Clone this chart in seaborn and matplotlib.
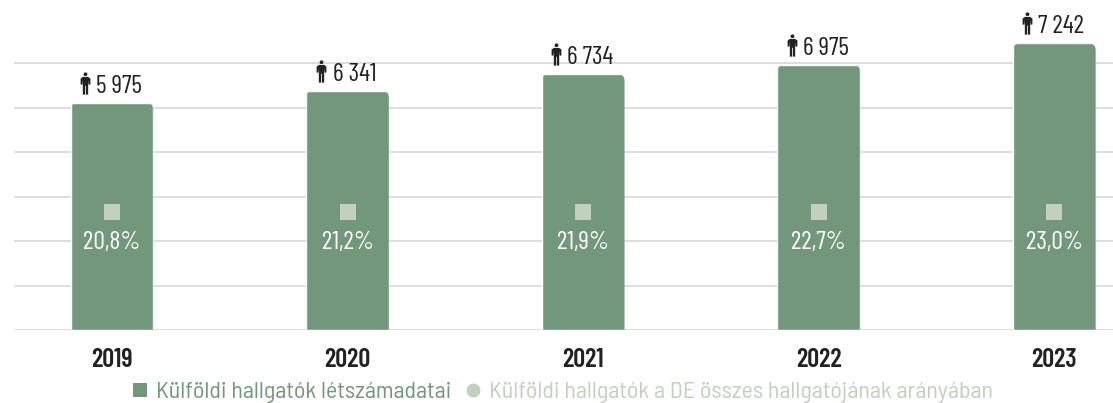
#!/usr/bin/env python3
"""
Foreign students at the university, headcount and share per year.
"""

import numpy as np
import pandas as pd
import seaborn as sns
import matplotlib.pyplot as plt

from matplotlib import font_manager
from matplotlib.lines import Line2D
from matplotlib.patches import FancyBboxPatch
from matplotlib.path import Path
from matplotlib.transforms import IdentityTransform, offset_copy

years = ["2019", "2020", "2021", "2022", "2023"]
# bar heights as drawn in the picture, the 2023 bar is taller than its label says
bar_heights = [5975, 6290, 6734, 6975, 7540]
headcount_labels = ["5 975", "6 341", "6 734", "6 975", "7 242"]
share_levels = [3105, 3105, 3105, 3105, 3105]
share_labels = ["20,8%", "21,2%", "21,9%", "22,7%", "23,0%"]
grid_levels = [0, 1171, 2342, 3513, 4684, 5855, 7026]
legend_labels = [
    "Külföldi hallgatók létszámadatai",
    "Külföldi hallgatók a DE összes hallgatójának arányában",
]

GREEN = "#73977a"
PALE = "#c3cfbf"
DARK = "#222222"
GRID = "#dedede"


def person_marker():
    """Small standing figure, head and body, used next to the headcounts."""
    head = Path.circle((0, 8.3), 1.7)
    body = Path(
        [(-2.2, 6), (2.2, 6), (4.4, 4.5), (4.4, -1), (2.8, -1), (2.4, 3), (2.4, -10),
         (0.35, -10), (0.35, -2), (-0.35, -2), (-0.35, -10), (-2.4, -10), (-2.4, 3),
         (-2.8, -1), (-4.4, -1), (-4.4, 4.5), (-2.2, 6)],
        closed=True,
    )
    return Path.make_compound_path(head, body)


def round_bars(fig, ax, radius=7):
    """Clip every bar to a box with rounded corners, only the top ones show."""
    fig.canvas.draw()
    for bar in ax.patches:
        box = bar.get_window_extent()
        clip = FancyBboxPatch(
            (box.x0 + radius, box.y0 - 30),
            box.width - 2 * radius,
            box.height + 30 - radius,
            boxstyle=f"round,pad={radius},rounding_size={radius}",
            transform=IdentityTransform(),
        )
        bar.set_clip_path(clip)


sns.set_theme(style="white")
installed = {f.name for f in font_manager.fontManager.ttflist}
narrow = "Barlow Condensed" if "Barlow Condensed" in installed else "Roboto"
semi = "Barlow Semi Condensed" if "Barlow Semi Condensed" in installed else "Roboto"
plt.rcParams["font.family"] = [narrow, "DejaVu Sans"]

df = pd.DataFrame({"year": years, "height": bar_heights})

fig = plt.figure(figsize=(11.13, 4.03), dpi=100)
ax = fig.add_axes([14 / 1113, 73 / 403, 1099 / 1113, 330 / 403])
ax.set_facecolor("none")

sns.barplot(df, x="year", y="height", color=GREEN, saturation=1, width=0.352, ax=ax, zorder=3)

ax.set_xlim(-0.416, 4.249)
ax.set_ylim(0, 8684)
ax.set_yticks(grid_levels)
ax.set_yticklabels([])
ax.yaxis.grid(True, color=GRID, lw=1.4, zorder=0)
ax.set_axisbelow(True)
ax.set_xlabel("")
ax.set_ylabel("")
ax.tick_params(axis="x", length=0, pad=13, labelsize=19, labelcolor=DARK)
ax.tick_params(axis="y", length=0)
for label in ax.get_xticklabels():
    label.set_fontweight("semibold")
sns.despine(ax=ax, left=True, bottom=True, top=True, right=True)

positions = np.arange(len(years))
icon_transform = offset_copy(ax.transData, fig=fig, x=-27, y=20, units="dots")
ax.plot(positions, bar_heights, ls="none", marker=person_marker(), ms=16, mew=0,
        color=DARK, transform=icon_transform, zorder=5, clip_on=False)
ax.plot(positions, share_levels, ls="none", marker="s", ms=11, mew=0, color=PALE, zorder=5)

for pos, height, headcount, level, share in zip(
    positions, bar_heights, headcount_labels, share_levels, share_labels
):
    ax.annotate(headcount, (pos, height), xytext=(7, 5), textcoords="offset pixels",
                ha="center", va="bottom", fontsize=18.5, color=DARK, zorder=5)
    ax.annotate(share, (pos, level), xytext=(0, -30), textcoords="offset pixels",
                ha="center", va="center", fontsize=18.5, color="white", zorder=5)

handles = [
    Line2D([], [], ls="none", marker="s", ms=10, mew=0, color=GREEN),
    Line2D([], [], ls="none", marker="o", ms=10, mew=0, color=PALE),
]
fig.legend(
    handles,
    legend_labels,
    loc="center",
    bbox_to_anchor=(563 / 1113, 11 / 403),
    ncol=2,
    frameon=False,
    prop={"family": semi, "size": 17.3},
    labelcolor=[GREEN, PALE],
    handlelength=0.6,
    handletextpad=0.35,
    columnspacing=0.6,
    borderpad=0,
)

round_bars(fig, ax)
fig.savefig("out.png", dpi=100)
